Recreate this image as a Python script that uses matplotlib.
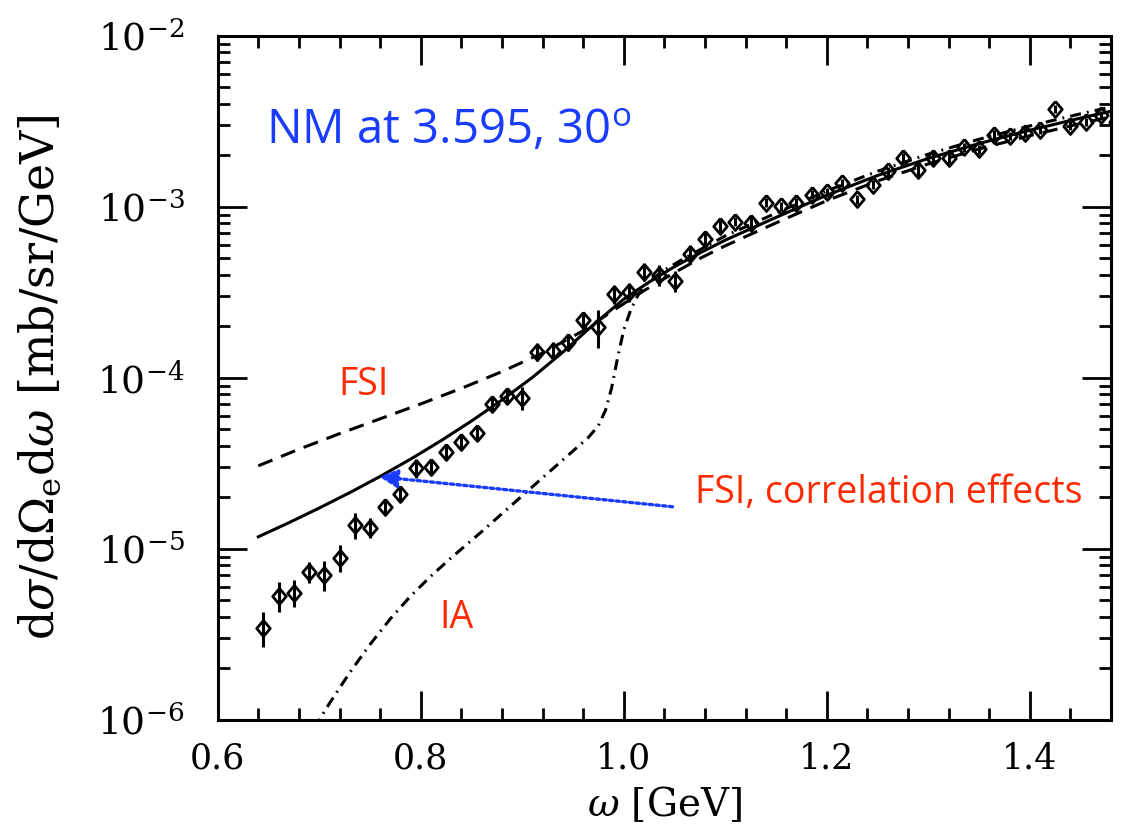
import numpy as np
import matplotlib
matplotlib.use('Agg')
import matplotlib.pyplot as plt
from matplotlib.ticker import MultipleLocator, LogLocator, NullFormatter, FuncFormatter

plt.rcParams['mathtext.fontset'] = 'dejavuserif'
plt.rcParams['font.family'] = 'DejaVu Serif'

# --- data ---
omega = [0.645, 0.660, 0.675, 0.690, 0.705, 0.720, 0.735, 0.750, 0.765, 0.780,
         0.795, 0.810, 0.825, 0.840, 0.855, 0.870, 0.885, 0.900, 0.915, 0.930,
         0.945, 0.960, 0.975, 0.990, 1.005, 1.020, 1.035, 1.050, 1.065, 1.080,
         1.095, 1.110, 1.125, 1.140, 1.155, 1.170, 1.185, 1.200, 1.215, 1.230,
         1.245, 1.260, 1.275, 1.290, 1.305, 1.320, 1.335, 1.350, 1.365, 1.380,
         1.395, 1.410, 1.425, 1.440, 1.455, 1.470, 1.485]
xsec = [3.45e-6, 5.31e-6, 5.53e-6, 7.33e-6, 7.05e-6, 8.86e-6, 1.38e-5, 1.33e-5, 1.76e-5, 2.10e-5,
        2.98e-5, 3.02e-5, 3.69e-5, 4.22e-5, 4.77e-5, 7.05e-5, 7.85e-5, 7.64e-5, 1.42e-4, 1.44e-4,
        1.62e-4, 2.18e-4, 1.99e-4, 3.10e-4, 3.18e-4, 4.17e-4, 4.00e-4, 3.69e-4, 5.31e-4, 6.50e-4,
        7.74e-4, 8.17e-4, 8.06e-4, 1.055e-3, 1.01e-3, 1.055e-3, 1.175e-3, 1.22e-3, 1.38e-3, 1.11e-3,
        1.35e-3, 1.62e-3, 1.94e-3, 1.65e-3, 1.94e-3, 1.94e-3, 2.24e-3, 2.18e-3, 2.64e-3, 2.60e-3,
        2.71e-3, 2.82e-3, 3.74e-3, 2.98e-3, 3.14e-3, 3.45e-3, 3.14e-3]
rel_err = [0.23, 0.20, 0.18, 0.14, 0.20, 0.18, 0.17, 0.13, 0.10, 0.10,
           0.13, 0.11, 0.10, 0.10, 0.10, 0.10, 0.10, 0.15, 0.12, 0.12,
           0.12, 0.08, 0.25, 0.13, 0.13, 0.12, 0.14, 0.14, 0.13, 0.10,
           0.08, 0.06, 0.08, 0.06, 0.06, 0.06, 0.06, 0.06, 0.06, 0.06,
           0.06, 0.06, 0.06, 0.10, 0.08, 0.08, 0.06, 0.06, 0.06, 0.06,
           0.06, 0.06, 0.06, 0.06, 0.06, 0.06, 0.06]

# curves, given as log10 of the cross section
# full calculation (FSI + correlations), solid
full_x = [0.640, 0.670, 0.700, 0.730, 0.760, 0.790, 0.820, 0.850, 0.880, 0.910,
          0.940, 0.970, 1.000, 1.025, 1.050, 1.075, 1.100, 1.150, 1.200, 1.250,
          1.300, 1.350, 1.400, 1.450, 1.480]
full_log = [-4.930, -4.848, -4.762, -4.672, -4.577, -4.476, -4.368, -4.253, -4.130, -3.998,
            -3.850, -3.690, -3.540, -3.440, -3.350, -3.270, -3.195, -3.062, -2.932, -2.817,
            -2.717, -2.630, -2.552, -2.481, -2.441]

# FSI, dashed
fsi_x = [0.640, 0.680, 0.720, 0.760, 0.800, 0.840, 0.880, 0.920, 0.960, 0.990,
         1.020, 1.050, 1.075, 1.100, 1.150, 1.200, 1.250, 1.300, 1.350, 1.400,
         1.450, 1.480]
fsi_log = [-4.515, -4.418, -4.327, -4.240, -4.153, -4.062, -3.964, -3.855, -3.725, -3.605,
           -3.490, -3.385, -3.302, -3.228, -3.094, -2.964, -2.849, -2.749, -2.662, -2.584,
           -2.513, -2.473]

# IA, dash-dot
ia_x = [0.695, 0.710, 0.730, 0.750, 0.770, 0.790, 0.810, 0.830, 0.860, 0.900,
        0.940, 0.965, 0.975, 0.982, 0.988, 0.994, 1.000, 1.007, 1.015, 1.025,
        1.040, 1.060, 1.100, 1.150, 1.200, 1.250, 1.300, 1.350, 1.400, 1.450, 1.480]
ia_log = [-6.050, -5.905, -5.725, -5.560, -5.410, -5.277, -5.160, -5.053, -4.900, -4.690,
          -4.480, -4.350, -4.280, -4.190, -4.060, -3.880, -3.720, -3.600, -3.505, -3.435,
          -3.370, -3.300, -3.170, -3.037, -2.907, -2.792, -2.692, -2.605, -2.527, -2.456, -2.416]

blue = '#1a3cff'
red = '#ff2a00'

fig = plt.figure(figsize=(11.28, 8.33), dpi=100)
ax = fig.add_axes([0.193, 0.136, 0.792, 0.821])

ax.plot(full_x, 10 ** np.array(full_log), color='black', lw=2.2)
ax.plot(fsi_x, 10 ** np.array(fsi_log), color='black', lw=2.2, dashes=(5, 3))
ax.plot(ia_x, 10 ** np.array(ia_log), color='black', lw=2.2, dashes=(3.6, 2, 0.6, 2))

yerr = np.array(xsec) * np.array(rel_err)
diamond = [(0, 1), (0.85, 0), (0, -1), (-0.85, 0), (0, 1)]
ax.errorbar(omega, xsec, yerr=yerr, fmt='none', ecolor='black', elinewidth=2.2, capsize=0)
ax.plot(omega, xsec, linestyle='none', marker=diamond, markersize=11.5,
        markerfacecolor='none', markeredgecolor='black', markeredgewidth=2.0)

# dotted arrow
ax.annotate('', xy=(0.759, 2.64e-5), xytext=(1.048, 1.76e-5),
            arrowprops=dict(arrowstyle='-|>,head_length=1.1,head_width=0.55',
                            color=blue, lw=2.4, linestyle=(0, (1, 1.0)),
                            shrinkA=0, shrinkB=0))

ax.set_yscale('log')
ax.set_xlim(0.6, 1.48)
ax.set_ylim(1e-6, 1e-2)

ax.xaxis.set_major_locator(MultipleLocator(0.2))
ax.xaxis.set_minor_locator(MultipleLocator(0.04))
ax.xaxis.set_major_formatter(FuncFormatter(lambda v, p: f'{v:.1f}'))
ax.yaxis.set_major_locator(LogLocator(base=10, numticks=10))
ax.yaxis.set_major_formatter(FuncFormatter(lambda v, p: r'$10^{%d}$' % round(np.log10(v))))
ax.yaxis.set_minor_locator(LogLocator(base=10, subs=np.arange(2, 10), numticks=20))
ax.yaxis.set_minor_formatter(NullFormatter())

ax.tick_params(which='both', direction='in', top=True, right=True, width=2.0)
ax.tick_params(which='major', length=21)
ax.tick_params(which='minor', length=8.5)
ax.tick_params(axis='x', which='major', labelsize=25, pad=16)
ax.tick_params(axis='y', which='major', labelsize=27, pad=24)
for s in ax.spines.values():
    s.set_linewidth(2.2)

ax.set_xlabel(r'$\omega\ [\mathrm{GeV}]$', fontsize=28)
ax.set_ylabel(r'$\mathrm{d}\sigma/\mathrm{d}\Omega_\mathrm{e}\mathrm{d}\omega\ [\mathrm{mb/sr/GeV}]$',
              fontsize=33)
ax.xaxis.set_label_coords(0.5, -0.095)
ax.yaxis.set_label_coords(-0.172, 0.5)

ax.text(0.648, 2.37e-3, r'NM at 3.595, 30$^{\mathregular{o}}$', color=blue,
        fontsize=34, family='Open Sans', va='baseline')
ax.text(0.744, 9.1e-5, 'FSI', color=red, fontsize=27, family='Open Sans', va='center', ha='center')
ax.text(0.835, 3.94e-6, 'IA', color=red, fontsize=27, family='Open Sans', va='center', ha='center')
ax.text(1.070, 2.12e-5, 'FSI, correlation effects', color=red, fontsize=27,
        family='Open Sans', va='center', ha='left')

plt.savefig('out.png', dpi=100)
